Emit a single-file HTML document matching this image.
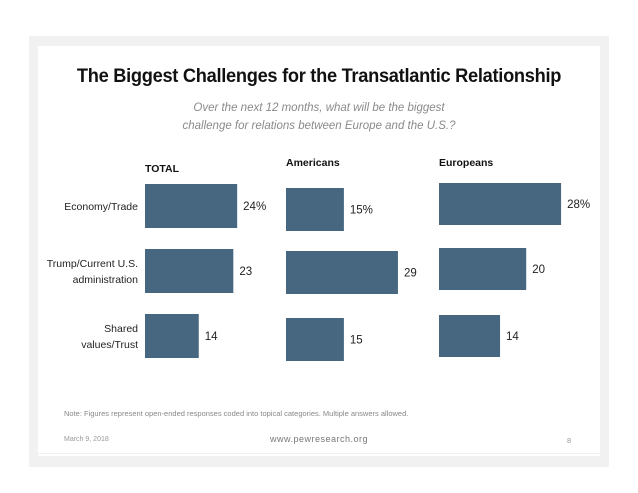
<!DOCTYPE html>
<html><head><meta charset="utf-8"><style>
body{margin:0;width:638px;height:493px;background:#fff;font-family:"Liberation Sans",sans-serif;overflow:hidden}
#frame{position:absolute;left:29px;top:36px;width:580px;height:431px;background:#f1f1f1}
#card{position:absolute;left:38px;top:46px;width:562px;height:410px;background:#fff}
.t{position:absolute;white-space:nowrap}
</style></head><body>
<div id="frame"></div>
<div id="card"></div>
<div class="t" style="left:0;width:638px;text-align:center;top:66px;font-size:19px;font-weight:bold;letter-spacing:-0.3px;color:#111;transform:scaleX(0.96)">The Biggest Challenges for the Transatlantic Relationship</div>
<div class="t" style="left:0;width:638px;text-align:center;top:99px;font-size:11.5px;line-height:18px;font-style:italic;color:#8a8a8a">Over the next 12 months, what will be the biggest<br>challenge for relations between Europe and the U.S.?</div>
<svg id="chart" width="638" height="493" style="position:absolute;left:0;top:0"></svg>
<div class="t" style="left:64px;top:409px;font-size:7.5px;color:#888">Note: Figures represent open-ended responses coded into topical categories. Multiple answers allowed.</div>
<div style="position:absolute;left:38px;top:453px;width:562px;height:1px;background:#f0f0f0"></div>
<div class="t" style="left:64px;top:436px;font-size:7px;color:#999">March 9, 2018</div>
<div class="t" style="left:0;width:638px;text-align:center;top:434px;font-size:9px;letter-spacing:0.5px;color:#777">www.pewresearch.org</div>
<div class="t" style="left:567px;top:436px;font-size:7.5px;color:#999">8</div>
<script>
const categories=["Economy/Trade","Trump/Current U.S.|administration","Shared|values/Trust"];
const groups=["TOTAL","Americans","Europeans"];
const totalValues=[24,23,14];
const americanValues=[15,29,15];
const europeanValues=[28,20,14];
const valueLabels=[["24%","23","14"],["15%","29","15"],["28%","20","14"]];
const series=[totalValues,americanValues,europeanValues];
const NS="http://www.w3.org/2000/svg";
const svg=document.getElementById("chart");
const panelX=[145,286,439], scaleK=[3.84,3.86,4.36];
const rowY=[[184,249,314],[188,251,318],[183,248,315]], barH=[44,43,42];
const headY=[172,166,166];
function xs(g,v){return panelX[g]+v*scaleK[g];}
function txt(x,y,s,attrs,name){const t=document.createElementNS(NS,"text");t.setAttribute("x",x);t.setAttribute("y",y);for(const k in attrs)t.setAttribute(k,attrs[k]);t.textContent=s;


svg.appendChild(t);return t;}
groups.forEach((g,gi)=>{
  txt(panelX[gi],headY[gi],g,{"font-size":"10.5","font-weight":"bold","fill":"#111"},"panel-header-"+gi);
  series[gi].forEach((v,i)=>{
    const r=document.createElementNS(NS,"rect");
    r.setAttribute("x",panelX[gi]);r.setAttribute("y",rowY[gi][i]);
    r.setAttribute("width",xs(gi,v)-panelX[gi]);r.setAttribute("height",barH[gi]);
    r.setAttribute("fill","#46677f");
    
    
    svg.appendChild(r);
    txt(xs(gi,v)+6,rowY[gi][i]+barH[gi]/2+4,valueLabels[gi][i],{"font-size":"11.5","fill":"#222"},"value-label-"+gi+"-"+i);
  });
});
categories.forEach((c,i)=>{
  const lines=c.split("|");const cy=rowY[0][i]+barH[0]/2;
  lines.forEach((l,j)=>{
    txt(138,cy+4+(j-(lines.length-1)/2)*16,l,{"font-size":"10.5","fill":"#222","text-anchor":"end"},"category-label-"+i+"-"+j);
  });
});
</script>
</body></html>
